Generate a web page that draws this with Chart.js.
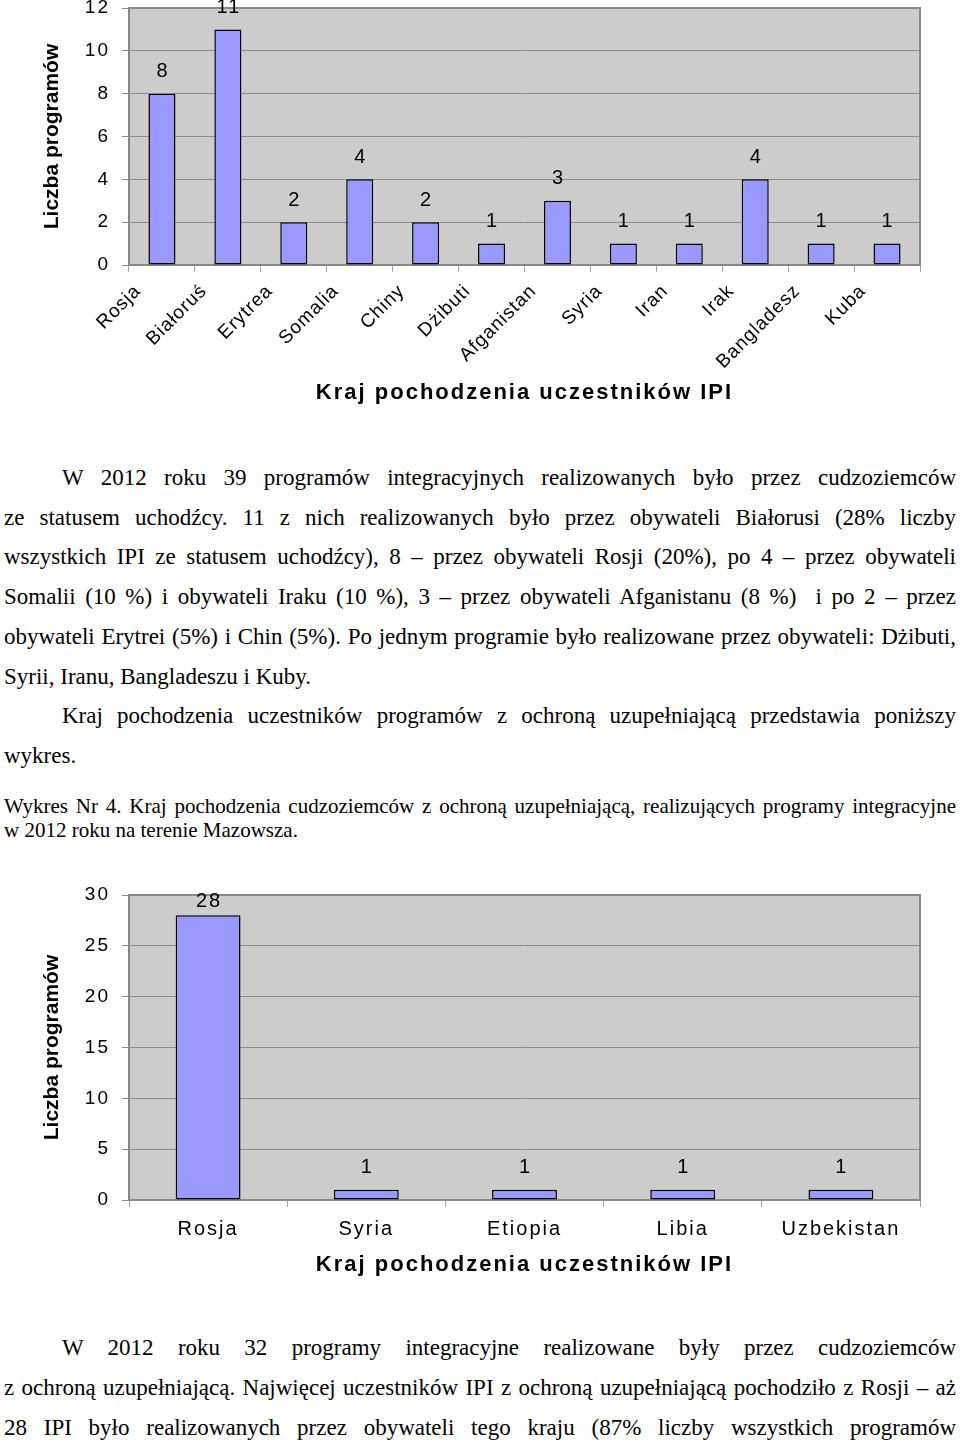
<!DOCTYPE html>
<html lang="pl">
<head>
<meta charset="UTF-8">
<title>Kraj pochodzenia uczestników IPI</title>
<style>
  body { margin: 0; background: #fff; width: 960px; height: 1444px; position: relative; overflow: hidden;
         font-family: "Liberation Serif", "Times New Roman", serif; color: #000; }
  canvas { position: absolute; left: 0; }
  #chart1 { top: 0; }
  #chart2 { top: 860px; }
  .ln { position: absolute; left: 4px; width: 952px; white-space: nowrap; text-align: justify; text-align-last: justify; }
  .ln.ind { left: 62px; width: 894px; }
  .ln.end { text-align: left; text-align-last: left; }
  .txt { font-size: 23px; line-height: 40px; }
  .cap { font-size: 21px; line-height: 24px; }
</style>
</head>
<body>
<canvas id="chart1" width="960" height="420"></canvas>

<div class="ln ind txt" style="top:458px">W 2012 roku 39 programów integracyjnych realizowanych było przez cudzoziemców</div>
<div class="ln txt" style="top:498px">ze statusem uchodźcy. 11 z nich realizowanych było przez obywateli Białorusi (28% liczby</div>
<div class="ln txt" style="top:537px">wszystkich IPI ze statusem uchodźcy), 8 – przez obywateli Rosji (20%), po 4 – przez obywateli</div>
<div class="ln txt" style="top:577px">Somalii (10 %) i obywateli Iraku (10 %), 3 – przez obywateli Afganistanu (8 %)&nbsp; i po 2 – przez</div>
<div class="ln txt" style="top:617px">obywateli Erytrei (5%) i Chin (5%). Po jednym programie było realizowane przez obywateli: Dżibuti,</div>
<div class="ln txt end" style="top:657px">Syrii, Iranu, Bangladeszu i Kuby.</div>
<div class="ln ind txt" style="top:696px">Kraj pochodzenia uczestników programów z ochroną uzupełniającą przedstawia poniższy</div>
<div class="ln txt end" style="top:736px">wykres.</div>

<div class="ln cap" style="top:794px">Wykres Nr 4. Kraj pochodzenia cudzoziemców z ochroną uzupełniającą, realizujących programy integracyjne</div>
<div class="ln cap end" style="top:818px">w 2012 roku na terenie Mazowsza.</div>

<canvas id="chart2" width="960" height="420"></canvas>

<div class="ln ind txt" style="top:1328px">W 2012 roku 32 programy integracyjne realizowane były przez cudzoziemców</div>
<div class="ln txt" style="top:1368px">z ochroną uzupełniającą. Najwięcej uczestników IPI z ochroną uzupełniającą pochodziło z Rosji – aż</div>
<div class="ln txt" style="top:1408px">28 IPI było realizowanych przez obywateli tego kraju (87% liczby wszystkich programów</div>

<script src="https://cdn.jsdelivr.net/npm/chart.js@4.4.0/dist/chart.umd.min.js"></script>
<script>
// chart 1 - uchodźcy
const countries1 = ['Rosja', 'Białoruś', 'Erytrea', 'Somalia', 'Chiny', 'Dżibuti', 'Afganistan', 'Syria', 'Iran', 'Irak', 'Bangladesz', 'Kuba'];
const programs1 = [8, 11, 2, 4, 2, 1, 3, 1, 1, 4, 1, 1];
const yTicks1 = [0, 2, 4, 6, 8, 10, 12];

// chart 2 - ochrona uzupełniająca
const countries2 = ['Rosja', 'Syria', 'Etiopia', 'Libia', 'Uzbekistan'];
const programs2 = [28, 1, 1, 1, 1];
const yTicks2 = [0, 5, 10, 15, 20, 25, 30];

const yTitle = 'Liczba programów';
const xTitle = 'Kraj pochodzenia uczestników IPI';

const family = '"Liberation Sans", Arial, sans-serif';

// wrap a scale draw method so its text gets its own letter spacing
function spaced(scale, name, sp) {
    const orig = scale[name];
    scale[name] = function () {
        const ctx = this.ctx;
        const old = ctx.letterSpacing;
        ctx.letterSpacing = sp;
        orig.apply(this, arguments);
        ctx.letterSpacing = old;
    };
}

// grey plot area + frame, Excel style
const plotBox = {
    id: 'plotBox',
    beforeDraw(chart, args, opts) {
        const { ctx, chartArea: a } = chart;
        if (!chart.$spaced) {
            spaced(chart.scales.x, 'drawLabels', opts.xLabels);
            spaced(chart.scales.x, 'drawTitle', '2px');
            spaced(chart.scales.y, 'drawLabels', '2px');
            spaced(chart.scales.y, 'drawTitle', '0px');
            chart.$spaced = true;
        }
        ctx.save();
        ctx.fillStyle = '#cccccc';
        ctx.fillRect(a.left, a.top, a.right - a.left, a.bottom - a.top);
        ctx.restore();
    },
    beforeDatasetsDraw(chart) {
        const { ctx, chartArea: a } = chart;
        ctx.save();
        ctx.strokeStyle = '#888888';
        ctx.lineWidth = 2;
        ctx.strokeRect(a.left, a.top, a.right - a.left, a.bottom - a.top);
        ctx.restore();
    }
};

// numbers above the bars
const barValues = {
    id: 'barValues',
    afterDatasetsDraw(chart, args, opts) {
        const { ctx, chartArea: a } = chart;
        const values = chart.data.datasets[0].data;
        ctx.save();
        ctx.font = '20px ' + family;
        ctx.letterSpacing = '2px';
        ctx.fillStyle = '#000';
        ctx.textAlign = 'center';
        ctx.textBaseline = 'middle';
        chart.getDatasetMeta(0).data.forEach((bar, i) => {
            let y = bar.y - 22;
            if (opts.clampTop) y = Math.max(y, a.top + 6);
            ctx.fillText(String(values[i]), bar.x + 1, y);
        });
        ctx.letterSpacing = '0px';
        ctx.restore();
    }
};

function makeChart(id, labels, values, yTicks, o) {
    const chart = new Chart(document.getElementById(id), {
        type: 'bar',
        data: {
            labels: labels,
            datasets: [{
                data: values,
                backgroundColor: '#9999ff',
                borderColor: '#000',
                borderWidth: 1.5,
                borderSkipped: false,
                barPercentage: 0.41,
                categoryPercentage: 1
            }]
        },
        options: {
            responsive: false,
            animation: false,
            layout: { padding: { top: o.top, right: 40, bottom: 0, left: 0 } },
            plugins: {
                legend: { display: false },
                tooltip: { enabled: false },
                barValues: { clampTop: o.clampTop },
                plotBox: { xLabels: o.xSpacing }
            },
            scales: {
                x: {
                    grid: { drawOnChartArea: false, color: '#a6a6a6', tickLength: 7, offset: true },
                    border: { display: false },
                    ticks: {
                        color: '#000',
                        font: { size: o.xFont, family: family },
                        autoSkip: false,
                        minRotation: o.rot,
                        maxRotation: o.rot,
                        labelOffset: o.labelOffset,
                        padding: o.xPad
                    },
                    title: {
                        display: true, text: xTitle, color: '#000',
                        font: { size: 22, weight: 'bold', family: family },
                        padding: { top: 0, bottom: o.titlePad }
                    },
                    afterFit(s) { s.height = o.xHeight; s.paddingLeft = 0; s.paddingRight = 0; }
                },
                y: {
                    min: yTicks[0],
                    max: yTicks[yTicks.length - 1],
                    afterBuildTicks(s) { s.ticks = yTicks.map(v => ({ value: v })); },
                    ticks: { color: '#000', font: { size: 19, family: family }, padding: 12 },
                    grid: { color: '#8c8c8c', tickLength: 7 },
                    border: { display: false },
                    title: {
                        display: true, text: yTitle, color: '#000',
                        font: { size: 21, weight: 'bold', family: family },
                        padding: { top: 40, bottom: 0 }
                    },
                    afterFit(s) { s.width = 129; s.paddingTop = 0; s.paddingBottom = 0; }
                }
            }
        },
        plugins: [plotBox, barValues]
    });
    chart.draw(); // redraw once the spacing wrappers are in place
    return chart;
}

makeChart('chart1', countries1, programs1, yTicks1,
    { top: 8, xHeight: 155, xFont: 19, xSpacing: '1px', rot: 45, labelOffset: -24, xPad: 8, titlePad: 14, clampTop: false });
makeChart('chart2', countries2, programs2, yTicks2,
    { top: 35, xHeight: 80, xFont: 20, xSpacing: '2px', rot: 0, labelOffset: 0, xPad: 10, titlePad: 2, clampTop: true });
</script>
</body>
</html>
